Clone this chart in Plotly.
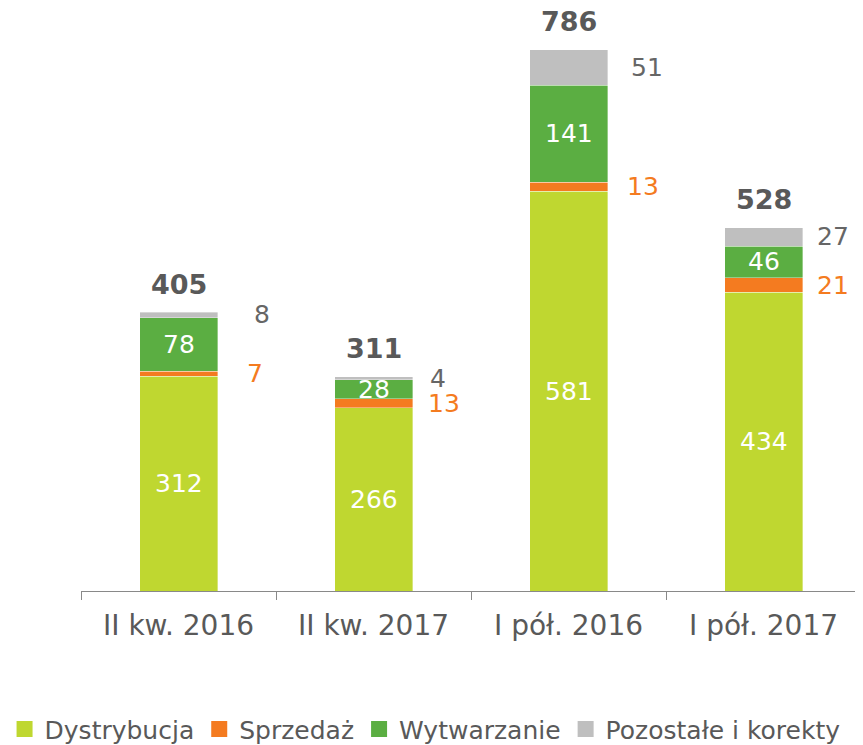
import plotly.graph_objects as go

categories = ["II kw. 2016", "II kw. 2017", "I pół. 2016", "I pół. 2017"]
dystrybucja = [312, 266, 581, 434]
sprzedaz = [7, 13, 13, 21]
wytwarzanie = [78, 28, 141, 46]
pozostale = [8, 4, 51, 27]
totals = [405, 311, 786, 528]

series_names = ["Dystrybucja", "Sprzedaż", "Wytwarzanie", "Pozostałe i korekty"]
colors = ["#BFD730", "#F47B20", "#5BAE42", "#BFBFBF"]
series = [dystrybucja, sprzedaz, wytwarzanie, pozostale]

FONT = "DejaVu Sans"
FS = 25
TXT = "#595959"

# styling: horizontal offsets (px) of outside labels from bar centre
orange_shift = [66, 52, 56, 51]
gray_shift = [73, 54, 60, 51]

fig = go.Figure()
for name, vals, col in zip(series_names, series, colors):
    fig.add_trace(go.Bar(x=categories, y=vals, name=name, marker=dict(color=col, line=dict(width=0.6, color="rgba(255,255,255,0.6)")),
                         showlegend=False, hoverinfo="skip"))
    fig.add_trace(go.Scatter(x=[None], y=[None], mode="markers", name=name,
                             marker=dict(symbol="square", size=16, color=col), showlegend=True))

annotations = []
for i, cat in enumerate(categories):
    base = 0
    for k, vals in enumerate(series):
        mid = base + vals[i] / 2
        if k in (0, 2):
            annotations.append(dict(x=cat, y=mid, text=str(vals[i]), showarrow=False,
                                    font=dict(family=FONT, size=FS, color="white"),
                                    xanchor="center", yanchor="middle"))
        elif k == 1:
            annotations.append(dict(x=cat, y=mid, text=str(vals[i]), showarrow=False,
                                    font=dict(family=FONT, size=FS, color="#F47B20"),
                                    xanchor="left", yanchor="middle", xshift=orange_shift[i]))
        else:
            annotations.append(dict(x=cat, y=mid, text=str(vals[i]), showarrow=False,
                                    font=dict(family=FONT, size=FS, color="#666666"),
                                    xanchor="left", yanchor="middle", xshift=gray_shift[i]))
        base += vals[i]
    annotations.append(dict(x=cat, y=totals[i], text="<b>%d</b>" % totals[i], showarrow=False,
                            font=dict(family=FONT, size=27, color=TXT),
                            xanchor="center", yanchor="middle", yshift=28))

fig.update_layout(
    barmode="stack",
    bargap=0.6,
    width=855, height=737,
    margin=dict(l=73, r=2, t=0, b=154, autoexpand=False),
    paper_bgcolor="white", plot_bgcolor="white",
    font=dict(family=FONT, size=FS, color=TXT),
    annotations=annotations,
    legend=dict(orientation="h", x=-0.098, xanchor="left", y=-0.237, yanchor="middle",
                font=dict(family=FONT, size=25, color=TXT), itemwidth=30,
                traceorder="normal", tracegroupgap=0),
    showlegend=True,
)
fig.update_xaxes(type="category", range=[-0.5, 3.5], showline=True, linecolor="#898989", linewidth=1.3,
                 ticks="outside", tickson="boundaries", ticklen=8, tickcolor="#898989", tickwidth=1.3,
                 tickfont=dict(family=FONT, size=28, color=TXT), showgrid=False, ticklabelstandoff=9)
fig.update_yaxes(range=[0, 847], visible=False, showgrid=False)

fig.write_html("out.html")
